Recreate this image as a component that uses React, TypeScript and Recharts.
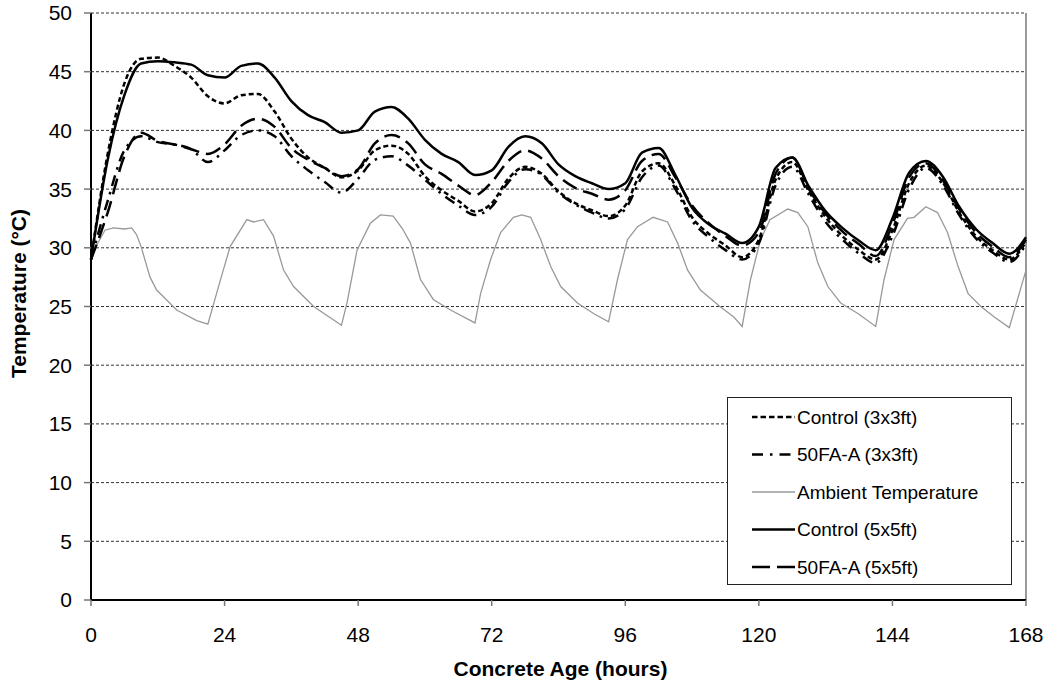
import React from 'react';
import { LineChart, Line, XAxis, YAxis, CartesianGrid, Legend, ReferenceLine } from 'recharts';

const FONT = '"Liberation Sans", Arial, Helvetica, sans-serif';

const hours = [
  0, 3, 6, 9, 12, 15, 18, 21, 24, 27, 30, 33, 36, 39, 42, 45, 48, 51, 54, 57,
  60, 63, 66, 69, 72, 75, 78, 81, 84, 87, 90, 93, 96, 99, 102, 105, 108, 111, 114, 117,
  120, 123, 126, 129, 132, 135, 138, 141, 144, 147, 150, 153, 156, 159, 162, 165, 168,
];

const control3 = [
  29.0, 38.0, 44.0, 46.1, 46.2, 45.5, 44.5, 42.9, 42.3, 43.0, 43.1, 41.6, 39.3, 37.7, 36.8, 36.0, 36.6, 38.3, 38.7, 38.0,
  36.1, 34.9, 34.0, 33.1, 33.8, 35.9, 36.9, 36.3, 34.8, 33.8, 33.2, 32.7, 33.6, 36.5, 37.2, 35.3, 32.6, 31.2, 30.2, 29.2,
  30.7, 35.8, 37.3, 34.8, 32.6, 31.0, 29.8, 29.0, 31.5, 35.5, 37.0, 35.6, 33.0, 31.0, 29.8, 29.0, 30.5,
];

const fa3 = [
  29.0, 34.0, 38.3, 39.5, 39.0, 38.8, 38.4, 37.3, 38.3, 39.6, 40.0, 39.5, 37.8, 36.6, 35.6, 34.7, 35.9, 37.5, 37.8, 37.0,
  35.8, 34.6, 33.6, 32.8, 33.5, 35.6, 36.7, 36.2, 34.7, 33.7, 33.0, 32.5, 33.3, 36.0, 37.0, 35.0, 32.3, 30.9, 29.8, 29.0,
  30.4, 35.3, 36.9, 34.5, 32.2, 30.7, 29.5, 28.7, 31.0, 35.0, 36.8, 35.4, 32.8, 30.8, 29.6, 28.8, 30.3,
];

const control5 = [
  29.0, 37.5, 43.0, 45.7, 45.9, 45.8, 45.6, 44.7, 44.5, 45.5, 45.7, 44.5, 42.5, 41.3, 40.7, 39.8, 40.0, 41.6, 42.0, 41.0,
  39.2, 38.0, 37.3, 36.2, 36.6, 38.6, 39.5, 38.9, 37.1, 36.1, 35.5, 35.0, 35.5, 38.1, 38.5, 36.2, 33.4, 32.0, 31.2, 30.4,
  31.8, 36.8, 37.7, 35.2, 33.1, 31.7, 30.6, 29.8, 32.5, 36.4, 37.4, 36.1, 33.5, 31.6, 30.4, 29.5, 30.9,
];

const fa5 = [
  29.0, 33.0, 37.8, 39.8, 39.1, 38.8, 38.4, 38.0, 38.8, 40.4, 41.0, 40.3, 38.5, 37.5, 36.8, 36.1, 36.7, 38.9, 39.6, 38.9,
  37.1, 36.3, 35.3, 34.5, 35.6, 37.4, 38.3, 37.6, 36.1, 35.1, 34.6, 34.1, 34.9, 37.4, 38.0, 36.0, 33.6, 32.1, 31.0, 30.2,
  31.3, 36.3, 37.7, 35.0, 32.9, 31.4, 30.3, 29.3, 32.0, 36.0, 37.2, 35.8, 33.3, 31.3, 30.1, 29.2, 30.7,
];

// Ambient temperature is read on its own, finer time base
const ambientHours = [
  0, 1, 2.5, 4, 6, 7.3, 8.2, 9, 10.6, 11.8, 15.4, 19, 21,
  22.2, 23.4, 25, 28, 29.2, 31, 32.8, 34.6, 36.4, 40, 45,
  46, 47.8, 50.2, 52, 54.3, 56, 57.4, 59.2, 61.5, 64.6, 69,
  70, 71.8, 73.6, 75.9, 77.4, 79, 80.8, 82.6, 84.4, 87.4, 90.3, 93,
  94.6, 96.4, 98.2, 101, 103.6, 105.4, 107.2, 109.5, 113, 115.5, 117,
  118.5, 120.3, 122, 125.2, 127, 128.8, 130.6, 132.4, 134.7, 137.8, 141,
  142.5, 144.3, 146.7, 147.9, 150, 152.1, 153.9, 155.8, 157.6, 159.9, 162.3, 165, 168,
];

const ambientTemp = [
  29.0, 30.2, 31.5, 31.7, 31.6, 31.7, 31.1, 30.1, 27.5, 26.4, 24.7, 23.8, 23.5,
  25.5, 27.5, 30.1, 32.4, 32.2, 32.4, 31.0, 28.1, 26.7, 25.0, 23.4,
  25.3, 29.8, 32.1, 32.8, 32.7, 31.6, 30.4, 27.3, 25.6, 24.7, 23.6,
  26.1, 29.0, 31.3, 32.6, 32.8, 32.6, 30.7, 28.4, 26.7, 25.3, 24.4, 23.7,
  27.3, 30.7, 31.8, 32.6, 32.2, 30.4, 28.1, 26.4, 25.0, 24.1, 23.3,
  27.3, 30.7, 32.4, 33.3, 33.0, 31.8, 28.7, 26.7, 25.3, 24.4, 23.3,
  27.3, 30.7, 32.5, 32.6, 33.5, 33.0, 31.3, 28.4, 26.1, 25.0, 24.1, 23.2, 28.1,
];

const xTicks = [0, 24, 48, 72, 96, 120, 144, 168];
const yTicks = [0, 5, 10, 15, 20, 25, 30, 35, 40, 45, 50];

const seriesNames: Record<string, string> = {
  control3: 'Control (3x3ft)',
  fa3: '50FA-A (3x3ft)',
  ambient: 'Ambient Temperature',
  control5: 'Control (5x5ft)',
  fa5: '50FA-A (5x5ft)',
};
const legendOrder = ['control3', 'fa3', 'ambient', 'control5', 'fa5'];

const seriesStyle: Record<string, { stroke: string; width: number; dash?: string; legendDash?: string }> = {
  control3: { stroke: '#000', width: 2.5, dash: '5 3', legendDash: '5.5 3' },
  fa3: { stroke: '#000', width: 2.5, dash: '11 6 2.5 6', legendDash: '11 7 2.5 7' },
  ambient: { stroke: '#999', width: 1.3 },
  control5: { stroke: '#000', width: 2.5 },
  fa5: { stroke: '#000', width: 2.5, dash: '16 7', legendDash: '18 7' },
};

const data = hours.map((h, i) => ({
  hour: h,
  control3: control3[i],
  fa3: fa3[i],
  control5: control5[i],
  fa5: fa5[i],
}));

const ambientData = ambientHours.map((h, i) => ({ hour: h, ambient: ambientTemp[i] }));

const LEG_W = 285;
const LEG_H = 188;

const renderLegend = () => (
  <svg width={LEG_W} height={LEG_H} style={{ display: 'block' }}>
    <rect x={0.5} y={0.5} width={LEG_W - 1} height={LEG_H - 1} fill="#fff" stroke="#222" strokeWidth={1} />
    {legendOrder.map((key, i) => {
      const y = 20 + i * 37.5;
      const st = seriesStyle[key];
      return (
        <g key={key}>
          <line
            x1={25}
            x2={68}
            y1={y}
            y2={y}
            stroke={st.stroke}
            strokeWidth={st.width}
            strokeDasharray={st.legendDash}
          />
          <text x={70} y={y} dy="0.36em" fontSize={19} fontFamily={FONT} fill="#000">
            {seriesNames[key]}
          </text>
        </g>
      );
    })}
  </svg>
);

const XLabel = (props: any) => {
  const vb = props.viewBox || { x: 91, y: 600, width: 935, height: 60 };
  return (
    <text
      x={vb.x + vb.width / 2 + 2}
      y={vb.y + 76}
      textAnchor="middle"
      fontSize={21}
      fontWeight="bold"
      fontFamily={FONT}
      fill="#000"
    >
      Concrete Age (hours)
    </text>
  );
};

const YLabel = (props: any) => {
  const vb = props.viewBox || { x: 31, y: 13, width: 60, height: 587 };
  const cx = 26;
  const cy = vb.y + vb.height / 2 - 13;
  return (
    <text
      x={cx}
      y={cy}
      transform={`rotate(-90, ${cx}, ${cy})`}
      textAnchor="middle"
      fontSize={21}
      fontWeight="bold"
      fontFamily={FONT}
      fill="#000"
    >
      Temperature (°C)
    </text>
  );
};

export default function App() {
  return (
    <div style={{ position: 'absolute', left: 0, top: 0, width: 1050, height: 686, background: '#fff' }}>
      <LineChart
        width={1050}
        height={686}
        data={data}
        margin={{ top: 13, right: 24, bottom: 26, left: 31 }}
      >
        <CartesianGrid horizontal vertical={false} stroke="#333" strokeDasharray="3 2" strokeWidth={1} />
        <XAxis
          dataKey="hour"
          type="number"
          domain={[0, 168]}
          ticks={xTicks}
          interval={0}
          allowDuplicatedCategory={false}
          height={60}
          tickSize={6}
          tickMargin={21}
          axisLine={{ stroke: '#000', strokeWidth: 2 }}
          tickLine={{ stroke: '#777', strokeWidth: 1.5 }}
          tick={{ fill: '#000', fontSize: 21, fontFamily: FONT }}
          label={{ content: XLabel }}
        />
        <YAxis
          type="number"
          domain={[0, 50]}
          ticks={yTicks}
          interval={0}
          width={60}
          tickSize={7}
          tickMargin={12}
          axisLine={{ stroke: '#000', strokeWidth: 2 }}
          tickLine={{ stroke: '#777', strokeWidth: 1.5 }}
          tick={{ fill: '#000', fontSize: 21, fontFamily: FONT }}
          label={{ content: YLabel }}
        />
        <ReferenceLine x={168} stroke="#555" strokeWidth={1.2} />
        <Line
          data={ambientData}
          dataKey="ambient"
          name={seriesNames.ambient}
          type="linear"
          stroke={seriesStyle.ambient.stroke}
          strokeWidth={seriesStyle.ambient.width}
          dot={false}
          activeDot={false}
          isAnimationActive={false}
        />
        <Line
          dataKey="fa3"
          name={seriesNames.fa3}
          type="monotone"
          stroke={seriesStyle.fa3.stroke}
          strokeWidth={seriesStyle.fa3.width}
          strokeDasharray={seriesStyle.fa3.dash}
          dot={false}
          activeDot={false}
          isAnimationActive={false}
        />
        <Line
          dataKey="control3"
          name={seriesNames.control3}
          type="monotone"
          stroke={seriesStyle.control3.stroke}
          strokeWidth={seriesStyle.control3.width}
          strokeDasharray={seriesStyle.control3.dash}
          dot={false}
          activeDot={false}
          isAnimationActive={false}
        />
        <Line
          dataKey="fa5"
          name={seriesNames.fa5}
          type="monotone"
          stroke={seriesStyle.fa5.stroke}
          strokeWidth={seriesStyle.fa5.width}
          strokeDasharray={seriesStyle.fa5.dash}
          dot={false}
          activeDot={false}
          isAnimationActive={false}
        />
        <Line
          dataKey="control5"
          name={seriesNames.control5}
          type="monotone"
          stroke={seriesStyle.control5.stroke}
          strokeWidth={seriesStyle.control5.width}
          dot={false}
          activeDot={false}
          isAnimationActive={false}
        />
        <Legend
          layout="vertical"
          align="center"
          verticalAlign="middle"
          content={renderLegend}
          wrapperStyle={{ position: 'absolute', left: 727, top: 397, width: LEG_W, height: LEG_H, margin: 0, padding: 0 }}
        />
      </LineChart>
    </div>
  );
}
